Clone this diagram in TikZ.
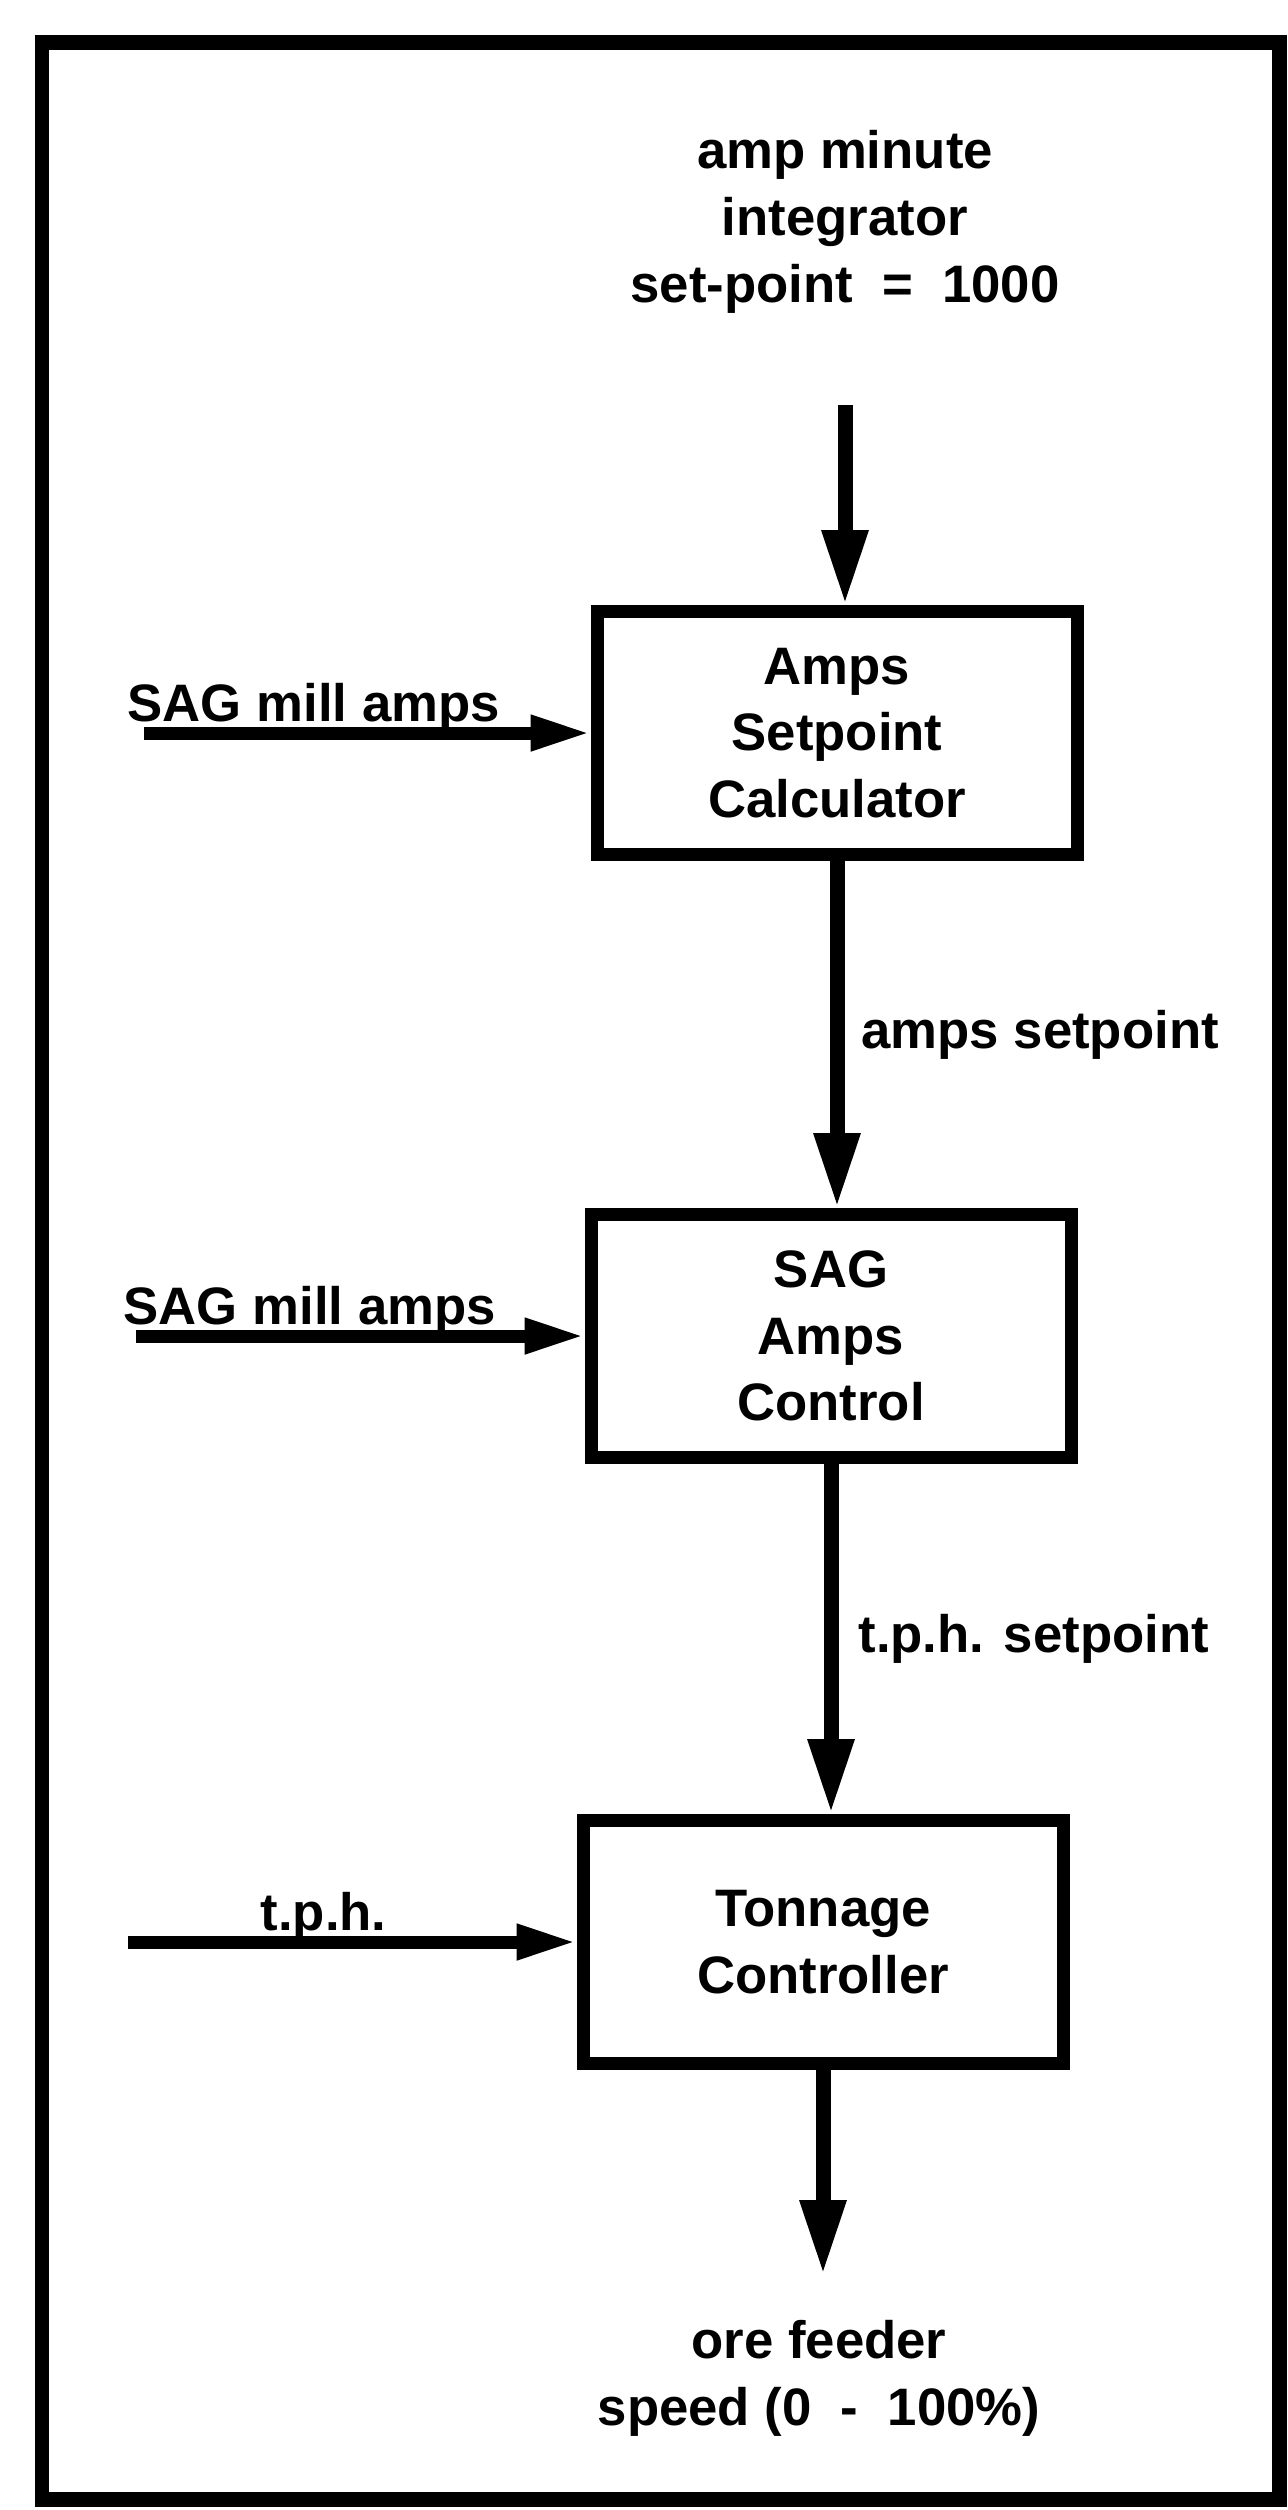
\documentclass[tikz,border=0pt]{standalone}
\usepackage{fontspec}
\setmainfont{Liberation Sans}
\usetikzlibrary{arrows.meta,positioning,calc}

\begin{document}
\begin{tikzpicture}[
    txt/.style={font=\fontsize{15}{19}\selectfont\bfseries, align=center, inner sep=0pt},
    lbl/.style={font=\fontsize{15}{19}\selectfont\bfseries, inner sep=0pt},
    ctrl/.style={draw, line width=0.13cm, minimum width=4.8cm, minimum height=2.43cm, txt},
    sig/.style={line width=0.15cm, -{Triangle[length=7.5mm,width=4.3mm]}},
    feed/.style={line width=0.13cm, -{Triangle[length=6mm,width=3.3mm]}}
]
    \useasboundingbox (0,0) rectangle (12.88,-25.10);

    % --- outer frame ---
    \draw[line width=0.15cm] (0.42,-0.42) rectangle (12.79,-24.99);

    % --- controller blocks ---
    \node[ctrl] (calc) at (8.37,-7.33) {Amps\\Setpoint\\Calculator};
    \node[ctrl] (sagctl) at (8.31,-13.36) {SAG\\Amps\\Control};
    \node[ctrl] (tonctl) at (8.23,-19.42) {Tonnage\\Controller};

    % --- setpoint from integrator ---
    \node[txt] (ampmin) at (8.45,-2.22) {amp minute\\integrator\\set-point \ = \ 1000};
    \coordinate (spin) at (8.45,-4.05);
    \draw[sig] (spin) -- (spin |- calc.north);

    % --- cascade ---
    \draw[sig] (calc.south) -- (calc.south |- sagctl.north)
        node[midway, right=0.17cm, lbl] (lblamps) {amps setpoint};
    \draw[sig] (sagctl.south) -- (sagctl.south |- tonctl.north)
        node[midway, right=0.2cm, lbl] (lbltph) {t.p.h. setpoint};

    % --- measured inputs ---
    \coordinate (amin1) at (1.44,-7.33);
    \draw[feed] (amin1) -- (calc.west);
    \node[lbl, anchor=base west] (lblsag1) at (1.27,-7.21) {SAG mill amps};

    \coordinate (amin2) at (1.36,-13.36);
    \draw[feed] (amin2) -- (sagctl.west);
    \node[lbl, anchor=base west] (lblsag2) at (1.23,-13.245) {SAG mill amps};

    \coordinate (tphin) at (1.28,-19.42);
    \draw[feed] (tphin) -- (tonctl.west);
    \node[lbl, anchor=base west] (lbltons) at (2.60,-19.305) {t.p.h.};

    % --- output to feeder ---
    \coordinate (oreout) at (8.23,-22.75);
    \draw[sig] (tonctl.south) -- (oreout);
    \node[txt] (orefeed) at (8.19,-23.78) {ore feeder\\speed (0 \ - \ 100\%)};
\end{tikzpicture}
\end{document}
